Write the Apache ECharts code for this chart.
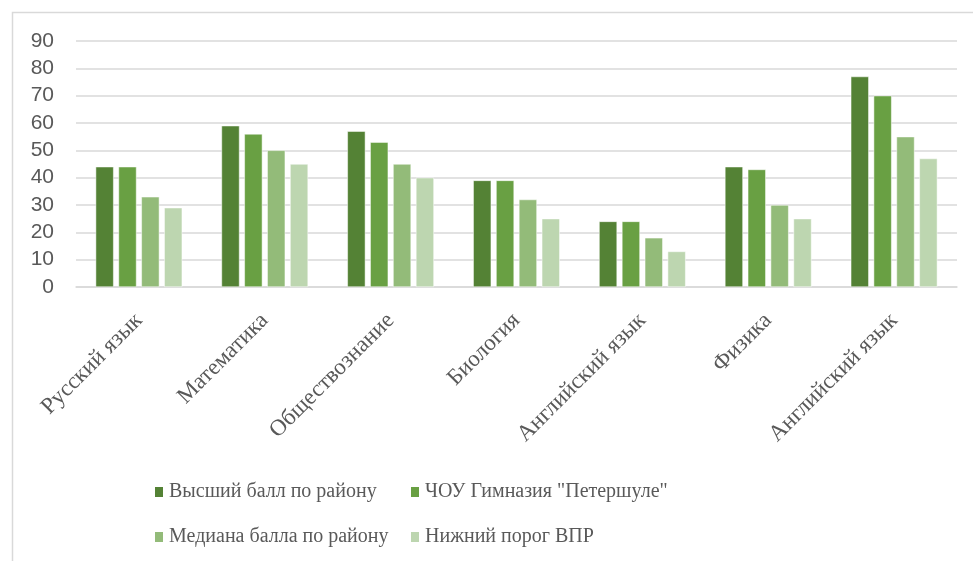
<!DOCTYPE html>
<html>
<head>
<meta charset="utf-8">
<script src="https://cdn.jsdelivr.net/npm/echarts@6/dist/echarts.min.js"></script>
<style>
html,body{margin:0;padding:0;background:#fff;}
#c{width:973px;height:561px;}
</style>
</head>
<body>
<div id="c"></div>
<script>
const categories = ['Русский язык','Математика','Обществознание','Биология','Английский язык','Физика','Английский язык '];
const seriesNames = ['Высший балл по району','ЧОУ Гимназия "Петершуле"','Медиана балла по району','Нижний порог ВПР'];
const highestDistrict = [44, 59, 57, 39, 24, 44, 77];
const schoolScores   = [44, 56, 53, 39, 24, 43, 70];
const medianDistrict = [33, 50, 45, 32, 18, 30, 55];
const lowerThreshold = [29, 45, 40, 25, 13, 25, 47];
const yTicks = [0, 90, 10];
const colors = ['#548235', '#69a043', '#93bb79', '#bdd6b0'];

const values = [highestDistrict, schoolScores, medianDistrict, lowerThreshold];
const chart = echarts.init(document.getElementById('c'), null, {renderer: 'canvas'});
const serif = '"Liberation Serif", "Times New Roman", serif';
const sans = '"Liberation Sans", Arial, sans-serif';

const legendCommon = {
  orient: 'vertical', top: 481, padding: 0,
  icon: 'rect', itemWidth: 10, itemHeight: 12, itemGap: 23,
  textStyle: {fontFamily: serif, fontSize: 20, color: '#595959', lineHeight: 22}
};

chart.setOption({
  animation: false,
  backgroundColor: '#ffffff',
  color: colors,
  graphic: [{
    type: 'rect',
    shape: {x: 12.5, y: 12.5, width: 1000, height: 600},
    style: {fill: 'none', stroke: '#d9d9d9', lineWidth: 1.5},
    silent: true
  }],
  grid: {left: 76, right: 16, top: 41, bottom: 274, containLabel: false},
  legend: [
    Object.assign({data: [seriesNames[0], seriesNames[2]], left: 153}, legendCommon),
    Object.assign({data: [seriesNames[1], seriesNames[3]], left: 409}, legendCommon)
  ],
  xAxis: {
    type: 'category',
    data: categories,
    axisLine: {lineStyle: {color: '#d9d9d9', width: 1.5}},
    axisTick: {show: false},
    axisLabel: {
      rotate: 45, interval: 0, margin: 30,
      fontFamily: serif, fontSize: 23, color: '#595959',
      formatter: v => v.trim()
    }
  },
  yAxis: {
    type: 'value',
    min: yTicks[0], max: yTicks[1], interval: yTicks[2],
    axisLine: {show: false},
    axisTick: {show: false},
    splitLine: {lineStyle: {color: '#d9d9d9', width: 1.5}},
    axisLabel: {fontFamily: sans, fontSize: 21, color: '#595959', margin: 22}
  },
  series: seriesNames.map((name, i) => ({
    name: name,
    type: 'bar',
    data: values[i],
    barWidth: 18,
    barGap: '27%',
    itemStyle: {color: colors[i], borderColor: '#ffffff', borderWidth: 0.5}
  }))
});
</script>
</body>
</html>
